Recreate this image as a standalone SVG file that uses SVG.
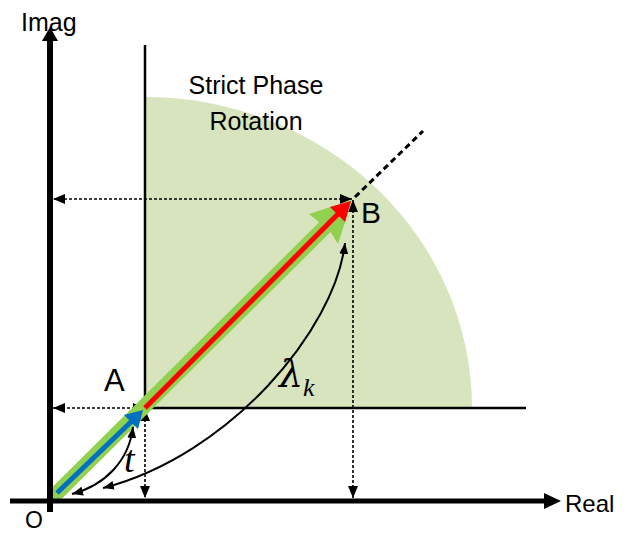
<svg xmlns="http://www.w3.org/2000/svg" width="641" height="541" viewBox="0 0 641 541">
<style>
.lbl{font-family:"Liberation Sans",Arial,sans-serif;fill:#000}
.math{font-family:"Liberation Serif","DejaVu Serif","Times New Roman",serif;font-style:italic;fill:#000}
.solid{stroke:#000;stroke-width:2.5;fill:none}
.dot{stroke:#000;stroke-width:1.6;stroke-dasharray:3,2;fill:none}
.arc{stroke:#000;stroke-width:2;fill:none}
</style>
<defs>
<marker id="ah" markerUnits="userSpaceOnUse" markerWidth="13" markerHeight="11" refX="12" refY="5" orient="auto-start-reverse" viewBox="0 0 13 11">
<path d="M0,0 L12,5 L0,10 Z" fill="#000"/>
</marker>
<marker id="ah2" markerUnits="userSpaceOnUse" markerWidth="13" markerHeight="11" refX="11" refY="4.5" orient="auto-start-reverse" viewBox="0 0 13 11">
<path d="M0,0 L11,4.5 L0,9 Z" fill="#000"/>
</marker>
</defs>
<g id="region">
<path d="M145,408 L145,97 A327,311 0 0 1 472,408 Z" fill="#d7e4bd"/>
</g>
<g id="frame">
<line class="solid" x1="145" y1="45" x2="145" y2="409"/>
<line class="solid" x1="144" y1="408" x2="526" y2="408"/>
</g>
<g id="connectors">
<line class="dot" x1="352" y1="199" x2="53" y2="199" marker-start="url(#ah)" marker-end="url(#ah)"/>
<line class="dot" x1="145" y1="408" x2="53" y2="408" marker-start="url(#ah)" marker-end="url(#ah)"/>
<line class="dot" x1="145" y1="409" x2="145" y2="498" marker-start="url(#ah)" marker-end="url(#ah)"/>
<line class="dot" x1="353" y1="200" x2="353" y2="498" marker-start="url(#ah)" marker-end="url(#ah)"/>
<line x1="355" y1="197" x2="423" y2="131" stroke="#000" stroke-width="3" stroke-dasharray="6,4"/>
<g id="vec-green">
<line x1="57" y1="493" x2="330" y2="222" stroke="#92d050" stroke-width="15" stroke-linecap="round"/>
<path d="M352,200 L338,244 L330,231 L309,214 Z" fill="#92d050"/>
</g>
<g id="vec-red">
<line x1="145" y1="408" x2="340" y2="212" stroke="#ff0000" stroke-width="5"/>
<path d="M351,201 L345,222 L330,207 Z" fill="#ff0000"/>
</g>
<g id="vec-blue">
<line x1="57" y1="493" x2="134" y2="419" stroke="#0070c0" stroke-width="5"/>
<path d="M143,410 L138,429 L124,415 Z" fill="#0070c0"/>
</g>
<path class="arc" d="M133,427 C129,460 106,485 72,494" marker-start="url(#ah2)" marker-end="url(#ah2)"/>
<path class="arc" d="M345,243 C335,330 230,455 103,488" marker-start="url(#ah2)" marker-end="url(#ah2)"/>
</g>
<g id="axes">
<line x1="50" y1="40" x2="50" y2="512" stroke="#000" stroke-width="6"/>
<polygon points="50,27 58,41 42,41" fill="#000"/>
<line x1="10" y1="501" x2="547" y2="501" stroke="#000" stroke-width="5"/>
<polygon points="561,501 544,493 544,509" fill="#000"/>
</g>
<g id="labels">
<text class="lbl" x="21" y="31" font-size="25">Imag</text>
<text class="lbl" x="565" y="512" font-size="24">Real</text>
<text class="lbl" x="25" y="528" font-size="23">O</text>
<text class="lbl" x="104" y="391" font-size="31">A</text>
<text class="lbl" x="361" y="223" font-size="30">B</text>
<text class="lbl" x="256" y="94" font-size="25" text-anchor="middle">Strict Phase</text>
<text class="lbl" x="256" y="130" font-size="25" text-anchor="middle">Rotation</text>
<text class="math" x="124" y="472" font-size="38">t</text>
<text class="math" x="279" y="387" font-size="38"><tspan font-family="'DejaVu Serif',serif">λ</tspan><tspan font-size="26" dy="9">k</tspan></text>
</g>
</svg>
